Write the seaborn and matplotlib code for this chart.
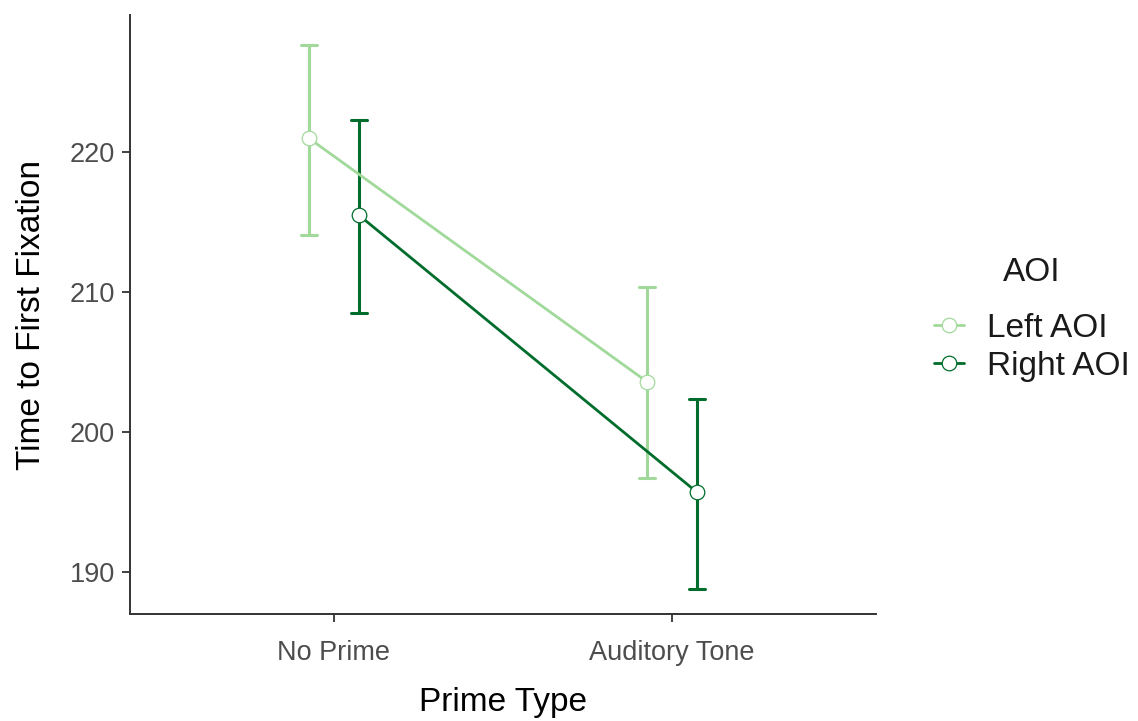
import numpy as np
import pandas as pd
import seaborn as sns
import matplotlib
matplotlib.use("Agg")
import matplotlib.pyplot as plt

# Group means with lower/upper error limits
prime_types = ["No Prime", "Auditory Tone"]
aoi_levels = ["Left AOI", "Right AOI"]
left_mean = [221.0, 203.6]
left_lo = [214.1, 196.7]
left_hi = [227.7, 210.4]
right_mean = [215.5, 195.7]
right_lo = [208.5, 188.8]
right_hi = [222.3, 202.4]
y_ticks = [190, 200, 210, 220]

palette = {"Left AOI": "#a1d99b", "Right AOI": "#006d2c"}

# Long table: each cell holds (low, mean, high); median gives the mean, min/max the bar
rows = []
for aoi, means, los, his in [("Left AOI", left_mean, left_lo, left_hi),
                             ("Right AOI", right_mean, right_lo, right_hi)]:
    for p, m, lo, hi in zip(prime_types, means, los, his):
        for v in (lo, m, hi):
            rows.append({"Prime Type": p, "AOI": aoi, "value": v})
df = pd.DataFrame(rows)

sns.set_style("ticks")
plt.rcParams["font.family"] = ["Liberation Sans", "DejaVu Sans"]

fig = plt.figure(figsize=(11.38, 7.21), dpi=100)
ax = fig.add_axes([0.1142, 0.1484, 0.6556, 0.8306])

sns.pointplot(
    data=df, x="Prime Type", y="value", hue="AOI",
    order=prime_types, hue_order=aoi_levels, palette=palette,
    estimator="median", errorbar=lambda v: (v.min(), v.max()),
    dodge=0.148, capsize=0.05, markers="o", markersize=10.5,
    linewidth=2.0, err_kws={"linewidth": 2.2}, ax=ax,
)

# Hollow (white-filled) point markers
for ln in ax.lines:
    if ln.get_marker() not in (None, "None", ""):
        ln.set_markerfacecolor("white")
        ln.set_markeredgewidth(0.9)
        ln.set_zorder(5)

ax.set_xlim(-0.6036, 1.6036)
ax.set_ylim(187.0, 229.8)
ax.set_yticks(y_ticks)
ax.set_xlabel("Prime Type", fontsize=24, color="black", labelpad=15)
ax.set_ylabel("Time to First Fixation", fontsize=24, color="black", labelpad=16)
ax.tick_params(axis="both", labelsize=19.5, colors="#333333", length=5.8, width=1.3,
               labelcolor="#4d4d4d")
ax.tick_params(axis="x", pad=13)
ax.tick_params(axis="y", pad=5)
sns.despine(ax=ax)
for s in ("left", "bottom"):
    ax.spines[s].set_linewidth(1.4)
    ax.spines[s].set_color("#333333")

# Rebuild legend with hollow markers, placed to the right of the panel
leg = ax.get_legend()
handles = leg.legend_handles
labels = [t.get_text() for t in leg.texts]
leg.remove()
for h in handles:
    h.set_markerfacecolor("white")
    h.set_markeredgewidth(0.9)
new_leg = fig.legend(handles, labels, title="AOI", loc="center left",
                     bbox_to_anchor=(0.809, 0.557), frameon=False,
                     fontsize=24, title_fontsize=24, handlelength=0.9,
                     handletextpad=0.7, labelspacing=0.22, borderaxespad=0)
new_leg._legend_box.sep = 18
for t in new_leg.texts:
    t.set_color("#1a1a1a")
new_leg.get_title().set_color("#1a1a1a")

fig.savefig("out.png", dpi=100)
